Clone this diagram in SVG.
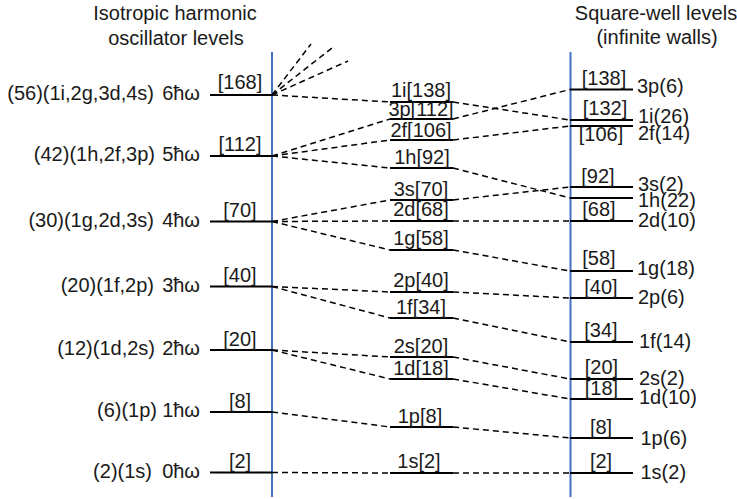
<svg xmlns="http://www.w3.org/2000/svg" width="737" height="499" viewBox="0 0 737 499">
<style>
text{font-family:"Liberation Sans",Arial,sans-serif;font-size:20px;fill:#1a1a1a;white-space:pre}
.m{text-anchor:middle}
.e{text-anchor:end}
.lvl{stroke:#000;stroke-width:1.8;fill:none}
.ax{stroke:#4472C4;stroke-width:2;fill:none}
.c line{stroke:#000;stroke-width:1.5;stroke-dasharray:6 4;fill:none}
</style>
<rect width="737" height="499" fill="#fff"/>
<g id="titles">
<text class="m" x="175" y="20">Isotropic harmonic</text>
<text class="m" x="176" y="45">oscillator levels</text>
<text class="m" x="656" y="20">Square-well levels</text>
<text class="m" x="657" y="44">(infinite walls)</text>
</g>
<g id="axes">
<line class="ax" x1="272" y1="52" x2="272" y2="497"/>
<line class="ax" x1="570.5" y1="52" x2="570.5" y2="497"/>
</g>
<g class="c" id="connectors">
<line x1="272" y1="95" x2="390" y2="102"/>
<line x1="272" y1="95" x2="311" y2="44"/>
<line x1="272" y1="95" x2="332" y2="48"/>
<line x1="272" y1="95" x2="348" y2="61"/>
<line x1="272" y1="156" x2="390" y2="119"/>
<line x1="272" y1="156" x2="390" y2="140"/>
<line x1="272" y1="156" x2="390" y2="168"/>
<line x1="272" y1="221.5" x2="390" y2="200"/>
<line x1="272" y1="221.5" x2="390" y2="221"/>
<line x1="272" y1="221.5" x2="390" y2="250"/>
<line x1="272" y1="286.5" x2="390" y2="292"/>
<line x1="272" y1="286.5" x2="390" y2="318"/>
<line x1="272" y1="350" x2="390" y2="357"/>
<line x1="272" y1="350" x2="390" y2="379"/>
<line x1="272" y1="412" x2="390" y2="427"/>
<line x1="272" y1="472.5" x2="390" y2="473"/>
<line x1="453" y1="102" x2="570" y2="120"/>
<line x1="453" y1="119" x2="570" y2="89.5"/>
<line x1="453" y1="140" x2="570" y2="126"/>
<line x1="453" y1="168" x2="570" y2="198"/>
<line x1="453" y1="200" x2="570" y2="187"/>
<line x1="453" y1="221" x2="570" y2="221"/>
<line x1="453" y1="250" x2="570" y2="271"/>
<line x1="453" y1="292" x2="570" y2="298"/>
<line x1="453" y1="318" x2="570" y2="342"/>
<line x1="453" y1="357" x2="570" y2="379"/>
<line x1="453" y1="379" x2="570" y2="399"/>
<line x1="453" y1="427" x2="570" y2="438"/>
<line x1="453" y1="473" x2="570" y2="473"/>
</g>
<g id="ho6"><line class="lvl" x1="210" y1="95" x2="272" y2="95"/><text class="m" x="240" y="89">[168]</text><text class="e" x="154" y="100">(56)(1i,2g,3d,4s)</text><text class="e" x="200" y="100">6ħω</text></g>
<g id="ho5"><line class="lvl" x1="210" y1="156" x2="272" y2="156"/><text class="m" x="240" y="151">[112]</text><text class="e" x="155" y="161">(42)(1h,2f,3p)</text><text class="e" x="200" y="161">5ħω</text></g>
<g id="ho4"><line class="lvl" x1="210" y1="221.5" x2="272" y2="221.5"/><text class="m" x="240" y="217">[70]</text><text class="e" x="154" y="227">(30)(1g,2d,3s)</text><text class="e" x="200" y="227">4ħω</text></g>
<g id="ho3"><line class="lvl" x1="210" y1="286.5" x2="272" y2="286.5"/><text class="m" x="240" y="282">[40]</text><text class="e" x="154" y="292">(20)(1f,2p)</text><text class="e" x="200" y="292">3ħω</text></g>
<g id="ho2"><line class="lvl" x1="210" y1="350" x2="272" y2="350"/><text class="m" x="240" y="346">[20]</text><text class="e" x="155" y="355">(12)(1d,2s)</text><text class="e" x="200" y="355">2ħω</text></g>
<g id="ho1"><line class="lvl" x1="210" y1="412" x2="272" y2="412"/><text class="m" x="240" y="408">[8]</text><text class="e" x="157" y="417">(6)(1p)</text><text class="e" x="200" y="417">1ħω</text></g>
<g id="ho0"><line class="lvl" x1="210" y1="472.5" x2="272" y2="472.5"/><text class="m" x="240" y="468">[2]</text><text class="e" x="152" y="478">(2)(1s)</text><text class="e" x="200" y="478">0ħω</text></g>
<g id="mid1i"><line class="lvl" x1="390" y1="102" x2="453" y2="102"/><text class="m" x="421" y="97">1i[138]</text></g>
<g id="mid3p"><line class="lvl" x1="390" y1="119" x2="453" y2="119"/><text class="m" x="421" y="116">3p[112]</text></g>
<g id="mid2f"><line class="lvl" x1="390" y1="140" x2="453" y2="140"/><text class="m" x="421" y="137">2f[106]</text></g>
<g id="mid1h"><line class="lvl" x1="390" y1="168" x2="453" y2="168"/><text class="m" x="422" y="163.5">1h[92]</text></g>
<g id="mid3s"><line class="lvl" x1="390" y1="200" x2="453" y2="200"/><text class="m" x="421" y="196">3s[70]</text></g>
<g id="mid2d"><line class="lvl" x1="390" y1="221" x2="453" y2="221"/><text class="m" x="421" y="216">2d[68]</text></g>
<g id="mid1g"><line class="lvl" x1="390" y1="250" x2="453" y2="250"/><text class="m" x="421" y="245">1g[58]</text></g>
<g id="mid2p"><line class="lvl" x1="390" y1="292" x2="453" y2="292"/><text class="m" x="421" y="287">2p[40]</text></g>
<g id="mid1f"><line class="lvl" x1="390" y1="318" x2="453" y2="318"/><text class="m" x="421" y="314">1f[34]</text></g>
<g id="mid2s"><line class="lvl" x1="390" y1="357" x2="453" y2="357"/><text class="m" x="421" y="353">2s[20]</text></g>
<g id="mid1d"><line class="lvl" x1="390" y1="379" x2="453" y2="379"/><text class="m" x="421" y="375">1d[18]</text></g>
<g id="mid1p"><line class="lvl" x1="390" y1="427" x2="453" y2="427"/><text class="m" x="420" y="422.5">1p[8]</text></g>
<g id="mid1s"><line class="lvl" x1="390" y1="473" x2="453" y2="473"/><text class="m" x="419" y="467.5">1s[2]</text></g>
<g id="sw3p"><line class="lvl" x1="570" y1="89.5" x2="633" y2="89.5"/><text class="m" x="604" y="85">[138]</text><text x="637" y="93">3p(6)</text></g>
<g id="sw1i"><line class="lvl" x1="570" y1="120" x2="633" y2="120"/><text class="m" x="605" y="115">[132]</text><text x="638" y="123">1i(26)</text></g>
<g id="sw2f"><line class="lvl" x1="570" y1="126" x2="633" y2="126"/><text class="m" x="601" y="141">[106]</text><text x="638" y="140">2f(14)</text></g>
<g id="sw3s"><line class="lvl" x1="570" y1="187" x2="633" y2="187"/><text class="m" x="598" y="183">[92]</text><text x="638" y="191">3s(2)</text></g>
<g id="sw1h"><line class="lvl" x1="570" y1="198" x2="633" y2="198"/><text x="638" y="207">1h(22)</text></g>
<g id="sw2d"><line class="lvl" x1="570" y1="221" x2="633" y2="221"/><text class="m" x="599" y="216">[68]</text><text x="638" y="227">2d(10)</text></g>
<g id="sw1g"><line class="lvl" x1="570" y1="271" x2="633" y2="271"/><text class="m" x="599" y="265">[58]</text><text x="637" y="275">1g(18)</text></g>
<g id="sw2p"><line class="lvl" x1="570" y1="298" x2="633" y2="298"/><text class="m" x="601" y="293.5">[40]</text><text x="638" y="303.5">2p(6)</text></g>
<g id="sw1f"><line class="lvl" x1="570" y1="342" x2="633" y2="342"/><text class="m" x="601" y="337">[34]</text><text x="639" y="348">1f(14)</text></g>
<g id="sw2s"><line class="lvl" x1="570" y1="379" x2="633" y2="379"/><text class="m" x="601.5" y="373.5">[20]</text><text x="639" y="385">2s(2)</text></g>
<g id="sw1d"><line class="lvl" x1="570" y1="399" x2="633" y2="399"/><text class="m" x="601.5" y="394.5">[18]</text><text x="639" y="404">1d(10)</text></g>
<g id="sw1p"><line class="lvl" x1="570" y1="438" x2="633" y2="438"/><text class="m" x="601" y="433.5">[8]</text><text x="640.5" y="445">1p(6)</text></g>
<g id="sw1s"><line class="lvl" x1="570" y1="473" x2="633" y2="473"/><text class="m" x="601" y="468">[2]</text><text x="640.5" y="478.5">1s(2)</text></g>
</svg>
